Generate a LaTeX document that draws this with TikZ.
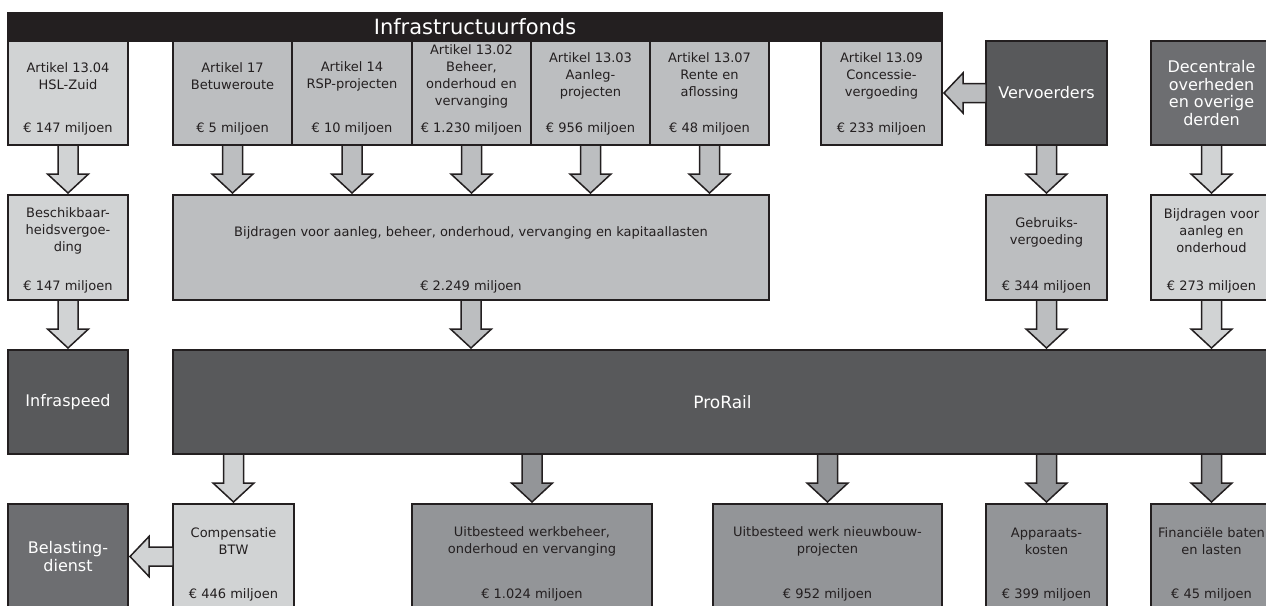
\documentclass[tikz,border=0pt]{standalone}
\usepackage{fontspec}
\setmainfont{DejaVu Sans}
\usetikzlibrary{calc}

\definecolor{licht}{HTML}{D1D3D4}
\definecolor{midden}{HTML}{BCBEC0}
\definecolor{grijs}{HTML}{939598}
\definecolor{donkergrijs}{HTML}{6D6E71}
\definecolor{donker}{HTML}{58595B}
\definecolor{zwart}{HTML}{231F20}

\tikzset{
  vak/.style={draw=zwart, line width=1.5pt, inner sep=0pt, outer sep=0pt},
  tekst/.style={align=center, text=zwart, font=\fontsize{13}{17}\selectfont},
  wit/.style={align=center, text=white, font=\fontsize{16}{17.6}\selectfont},
  blokneer/.style={draw=zwart, line width=1.5pt, line join=miter,
    to path={let \p1=(\tikztostart), \p2=(\tikztotarget) in
      (\x1-10pt,\y1) -- (\x1-10pt,\y2+21pt) -- (\x1-20.5pt,\y2+21pt) -- (\x1,\y2+2pt)
      -- (\x1+20.5pt,\y2+21pt) -- (\x1+10pt,\y2+21pt) -- (\x1+10pt,\y1) -- cycle}},
  bloklinks/.style={draw=zwart, line width=1.5pt, line join=miter,
    to path={let \p1=(\tikztostart), \p2=(\tikztotarget) in
      (\x1,\y1+9.5pt) -- (\x2+21pt,\y1+9.5pt) -- (\x2+21pt,\y1+20pt) -- (\x2+2pt,\y1)
      -- (\x2+21pt,\y1-20pt) -- (\x2+21pt,\y1-9.5pt) -- (\x1,\y1-9.5pt) -- cycle}}
}

\begin{document}
\begin{tikzpicture}[x=1pt, y=-1pt]
  \useasboundingbox (0,0) rectangle (1266,605);

  % bovenste rij
  \node[vak, fill=zwart, minimum width=934pt, minimum height=28pt, text=white,
        font=\fontsize{21}{24}\selectfont] (fonds) at (475,27) {Infrastructuurfonds};
  \node[vak, fill=licht,  minimum width=120pt, minimum height=104pt] (a1304) at (68,93) {};
  \node[vak, fill=midden, minimum width=119pt, minimum height=104pt] (a17)   at (232.5,93) {};
  \node[vak, fill=midden, minimum width=120pt, minimum height=104pt] (a14)   at (352,93) {};
  \node[vak, fill=midden, minimum width=119pt, minimum height=104pt] (a1302) at (471.5,93) {};
  \node[vak, fill=midden, minimum width=119pt, minimum height=104pt] (a1303) at (590.5,93) {};
  \node[vak, fill=midden, minimum width=119pt, minimum height=104pt] (a1307) at (709.5,93) {};
  \node[vak, fill=midden, minimum width=121pt, minimum height=104pt] (a1309) at (881.5,93) {};
  \node[vak, fill=donker, minimum width=121pt, minimum height=104pt, wit] (vervoerders) at (1046.5,93) {Vervoerders};
  \node[vak, fill=donkergrijs, minimum width=121pt, minimum height=104pt, wit] (decentraal) at (1211.5,93) {Decentrale\\overheden\\en overige\\derden};

  % tweede rij
  \node[vak, fill=licht,  minimum width=120pt, minimum height=105pt] (beschik)   at (68,247.5) {};
  \node[vak, fill=midden, minimum width=596pt, minimum height=105pt] (bijdragen) at (471,247.5) {};
  \node[vak, fill=midden, minimum width=121pt, minimum height=105pt] (gebruik)   at (1046.5,247.5) {};
  \node[vak, fill=licht,  minimum width=121pt, minimum height=105pt] (bijdrdec)  at (1211.5,247.5) {};

  % derde rij
  \node[vak, fill=donker, minimum width=120pt, minimum height=104pt, wit] (infraspeed) at (68,402) {Infraspeed};
  \node[vak, fill=donker, minimum width=1099pt, minimum height=104pt, wit,
        font=\fontsize{17}{19}\selectfont] (prorail) at (722.5,402) {ProRail};

  % vierde rij
  \node[vak, fill=donkergrijs, minimum width=120pt, minimum height=105pt, wit] (belasting) at (68,556.5) {Belasting-\\dienst};
  \node[vak, fill=licht, minimum width=121pt, minimum height=105pt] (compensatie) at (233.5,556.5) {};
  \node[vak, fill=grijs, minimum width=240pt, minimum height=105pt] (uitbwb)   at (532,556.5) {};
  \node[vak, fill=grijs, minimum width=229pt, minimum height=105pt] (uitbnb)   at (827.5,556.5) {};
  \node[vak, fill=grijs, minimum width=121pt, minimum height=105pt] (apparaat) at (1046.5,556.5) {};
  \node[vak, fill=grijs, minimum width=121pt, minimum height=105pt] (financ)   at (1211.5,556.5) {};

  % pijlen
  \draw[blokneer, fill=licht]  (a1304.south) to (beschik.north);
  \draw[blokneer, fill=midden] (a17.south)   to (bijdragen.north -| a17.south);
  \draw[blokneer, fill=midden] (a14.south)   to (bijdragen.north -| a14.south);
  \draw[blokneer, fill=midden] (a1302.south) to (bijdragen.north -| a1302.south);
  \draw[blokneer, fill=midden] (a1303.south) to (bijdragen.north -| a1303.south);
  \draw[blokneer, fill=midden] (a1307.south) to (bijdragen.north -| a1307.south);
  \draw[blokneer, fill=midden] (vervoerders.south) to (gebruik.north);
  \draw[blokneer, fill=licht]  (decentraal.south)  to (bijdrdec.north);
  \draw[bloklinks, fill=midden] (vervoerders.west) to (a1309.east);

  \draw[blokneer, fill=licht]  (beschik.south)   to (infraspeed.north);
  \draw[blokneer, fill=midden] (bijdragen.south) to (prorail.north -| bijdragen.south);
  \draw[blokneer, fill=midden] (gebruik.south)   to (prorail.north -| gebruik.south);
  \draw[blokneer, fill=licht]  (bijdrdec.south)  to (prorail.north -| bijdrdec.south);

  \draw[blokneer, fill=licht] (prorail.south -| compensatie.north) to (compensatie.north);
  \draw[blokneer, fill=grijs] (prorail.south -| uitbwb.north)   to (uitbwb.north);
  \draw[blokneer, fill=grijs] (prorail.south -| uitbnb.north)   to (uitbnb.north);
  \draw[blokneer, fill=grijs] (prorail.south -| apparaat.north) to (apparaat.north);
  \draw[blokneer, fill=grijs] (prorail.south -| financ.north)   to (financ.north);
  \draw[bloklinks, fill=licht] (compensatie.west) to (belasting.east);

  % teksten
  \node[tekst] (a1304t) at (68,76)    {Artikel 13.04\\HSL-Zuid};
  \node[tekst] (a1304b) at (68,129)   {€ 147 miljoen};
  \node[tekst] (a17t)   at (232.5,76) {Artikel 17\\Betuweroute};
  \node[tekst] (a17b)   at (232.5,129) {€ 5 miljoen};
  \node[tekst] (a14t)   at (352,76)   {Artikel 14\\RSP-projecten};
  \node[tekst] (a14b)   at (352,129)  {€ 10 miljoen};
  \node[tekst] (a1302t) at (471.5,76) {Artikel 13.02\\Beheer,\\onderhoud en\\vervanging};
  \node[tekst] (a1302b) at (471.5,129) {€ 1.230 miljoen};
  \node[tekst] (a1303t) at (590.5,76) {Artikel 13.03\\Aanleg-\\projecten};
  \node[tekst] (a1303b) at (590.5,129) {€ 956 miljoen};
  \node[tekst] (a1307t) at (709.5,76) {Artikel 13.07\\Rente en\\aflossing};
  \node[tekst] (a1307b) at (709.5,129) {€ 48 miljoen};
  \node[tekst] (a1309t) at (881.5,76) {Artikel 13.09\\Concessie-\\vergoeding};
  \node[tekst] (a1309b) at (881.5,129) {€ 233 miljoen};

  \node[tekst] (beschikt)   at (68,231)     {Beschikbaar-\\heidsvergoe-\\ding};
  \node[tekst] (beschikb)   at (68,287)     {€ 147 miljoen};
  \node[tekst] (bijdragent) at (471,233)    {Bijdragen voor aanleg, beheer, onderhoud, vervanging en kapitaallasten};
  \node[tekst] (bijdragenb) at (471,287)    {€ 2.249 miljoen};
  \node[tekst] (gebruikt)   at (1046.5,232) {Gebruiks-\\vergoeding};
  \node[tekst] (gebruikb)   at (1046.5,287) {€ 344 miljoen};
  \node[tekst] (bijdrdect)  at (1211.5,231) {Bijdragen voor\\aanleg en\\onderhoud};
  \node[tekst] (bijdrdecb)  at (1211.5,287) {€ 273 miljoen};

  \node[tekst] (compensatiet) at (233.5,541)  {Compensatie\\BTW};
  \node[tekst] (compensatieb) at (233.5,595)  {€ 446 miljoen};
  \node[tekst] (uitbwbt)      at (532,541)    {Uitbesteed werkbeheer,\\onderhoud en vervanging};
  \node[tekst] (uitbwbb)      at (532,595)    {€ 1.024 miljoen};
  \node[tekst] (uitbnbt)      at (827.5,541)  {Uitbesteed werk nieuwbouw-\\projecten};
  \node[tekst] (uitbnbb)      at (827.5,595)  {€ 952 miljoen};
  \node[tekst] (apparaatt)    at (1046.5,541) {Apparaats-\\kosten};
  \node[tekst] (apparaatb)    at (1046.5,595) {€ 399 miljoen};
  \node[tekst] (financt)      at (1211.5,541) {Financiële baten\\en lasten};
  \node[tekst] (financb)      at (1211.5,595) {€ 45 miljoen};
\end{tikzpicture}
\end{document}
